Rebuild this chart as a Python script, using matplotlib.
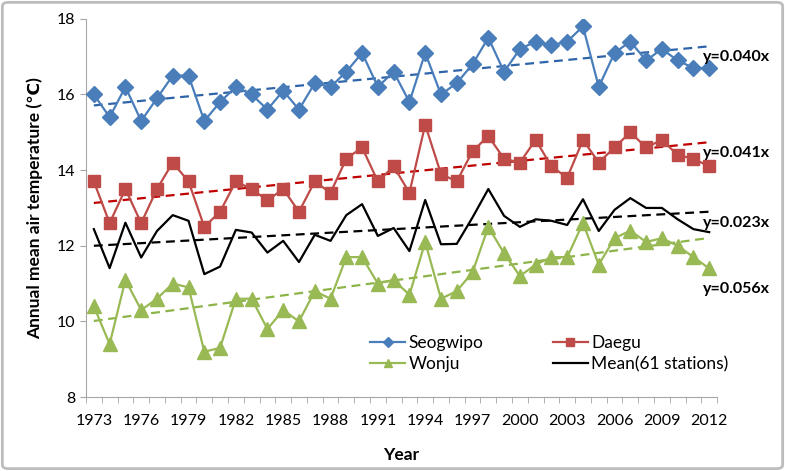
import numpy as np
import matplotlib.pyplot as plt
from matplotlib.patches import FancyBboxPatch

years = list(range(1973, 2013))

seogwipo = [16.0, 15.4, 16.2, 15.3, 15.9, 16.5, 16.5, 15.3, 15.8, 16.2,
            16.0, 15.6, 16.1, 15.6, 16.3, 16.2, 16.6, 17.1, 16.2, 16.6,
            15.8, 17.1, 16.0, 16.3, 16.8, 17.5, 16.6, 17.2, 17.4, 17.3,
            17.4, 17.8, 16.2, 17.1, 17.4, 16.9, 17.2, 16.9, 16.7, 16.7]
daegu = [13.7, 12.6, 13.5, 12.6, 13.5, 14.2, 13.7, 12.5, 12.9, 13.7,
         13.5, 13.2, 13.5, 12.9, 13.7, 13.4, 14.3, 14.6, 13.7, 14.1,
         13.4, 15.2, 13.9, 13.7, 14.5, 14.9, 14.3, 14.2, 14.8, 14.1,
         13.8, 14.8, 14.2, 14.6, 15.0, 14.6, 14.8, 14.4, 14.3, 14.1]
wonju = [10.4, 9.4, 11.1, 10.3, 10.6, 11.0, 10.9, 9.2, 9.3, 10.6,
         10.6, 9.8, 10.3, 10.0, 10.8, 10.6, 11.7, 11.7, 11.0, 11.1,
         10.7, 12.1, 10.6, 10.8, 11.3, 12.5, 11.8, 11.2, 11.5, 11.7,
         11.7, 12.6, 11.5, 12.2, 12.4, 12.1, 12.2, 12.0, 11.7, 11.4]
mean61 = [12.44, 11.41, 12.61, 11.69, 12.39, 12.81, 12.66, 11.25, 11.45, 12.42,
          12.35, 11.82, 12.13, 11.57, 12.29, 12.13, 12.81, 13.10, 12.26, 12.47,
          11.86, 13.21, 12.04, 12.05, 12.75, 13.50, 12.79, 12.50, 12.70, 12.66,
          12.55, 13.23, 12.39, 12.95, 13.26, 13.00, 13.00, 12.70, 12.44, 12.36]

trend_labels = ["y=0.040x", "y=0.041x", "y=0.023x", "y=0.056x"]

plt.rcParams['font.family'] = ['Lato', 'DejaVu Sans']

fig = plt.figure(figsize=(7.85, 4.71), dpi=100)
fig.patches.append(FancyBboxPatch((0.003, 0.005), 0.994, 0.99,
                                  boxstyle="round,pad=0,rounding_size=0.008",
                                  transform=fig.transFigure, fill=False,
                                  edgecolor='#bdbdbd', linewidth=2))
ax = fig.add_axes([0.1095, 0.157, 0.804, 0.803])

x = np.arange(len(years))

series = [
    ("Seogwipo", seogwipo, '#4A7EBB', 'D', 8, '#2E64A8'),
    ("Daegu", daegu, '#BE4B48', 's', 9, '#C00000'),
    ("Wonju", wonju, '#98B954', '^', 10, '#8DB448'),
    ("Mean(61 stations)", mean61, '#000000', None, 0, '#000000'),
]

handles = {}
for name, vals, col, mk, ms, tcol in series:
    h, = ax.plot(x, vals, color=col, marker=mk, markersize=ms, linewidth=1.6,
                 label=name, zorder=3)
    handles[name] = h
    k, b = np.polyfit(x, vals, 1)
    ax.plot(x, k * x + b, color=tcol, linestyle=(0, (4, 2.5)), linewidth=1.6,
            zorder=2)

label_y = [17.0, 14.45, 12.6, 10.85]
for txt, yy in zip(trend_labels, label_y):
    ax.text(38.6, yy, txt, fontsize=11.5, fontweight='bold', va='center', ha='left')

ax.set_xlim(-0.5, 39.5)
ax.set_ylim(8, 18)
ax.set_yticks([8, 10, 12, 14, 16, 18])
ax.set_xticks(x[::3])
ax.set_xticklabels([str(y) for y in years[::3]])
ax.set_xticks(np.arange(-0.5, 40, 1), minor=True)
ax.tick_params(axis='x', which='minor', length=4, color='#a6a6a6', direction='out')
ax.tick_params(axis='x', which='major', length=0, labelsize=11.5, pad=12)
ax.tick_params(axis='y', length=4, color='#a6a6a6', labelsize=11.5)

for s in ['top', 'right']:
    ax.spines[s].set_visible(False)
ax.spines['left'].set_color('#a6a6a6')
ax.spines['bottom'].set_color('#a6a6a6')

ax.set_xlabel("Year", fontsize=12.5, fontweight='bold', labelpad=14)
ax.set_ylabel("Annual mean air temperature (\u2103)", fontsize=12.5,
              fontweight='bold', family=['Lato', 'DejaVu Sans'], labelpad=10)

order = ["Seogwipo", "Wonju", "Daegu", "Mean(61 stations)"]
ax.legend([handles[n] for n in order], order, ncol=2, loc='lower left',
          bbox_to_anchor=(0.426, 0.025), frameon=False,
          fontsize=12.5, handlelength=2.0, columnspacing=4.0, labelspacing=0.3,
          handletextpad=0.2, markerscale=0.6)

fig.savefig("out.png", dpi=100)
